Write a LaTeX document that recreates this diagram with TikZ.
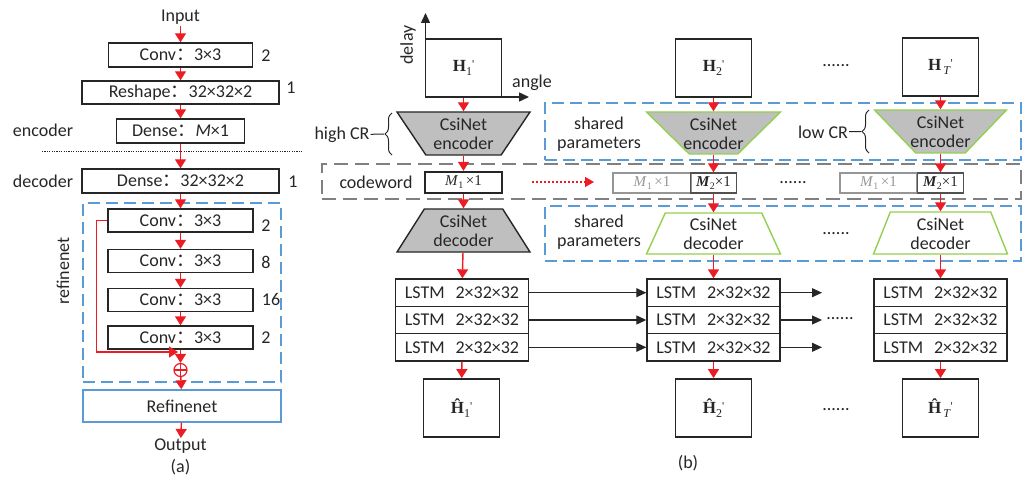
\documentclass[tikz,border=0pt]{standalone}
\usepackage{fontspec}
\setmainfont{Carlito}
\newfontfamily\cjkfont{Noto Sans CJK SC}
\newfontfamily\seriffont{Liberation Serif}
\usetikzlibrary{arrows.meta,shapes.geometric,decorations.pathreplacing}

\definecolor{flowred}{RGB}{235,28,36}
\definecolor{boxblue}{RGB}{91,155,213}
\definecolor{boxgray}{RGB}{128,128,128}
\definecolor{netgreen}{RGB}{146,208,80}
\definecolor{netfill}{RGB}{191,191,191}
\definecolor{ink}{RGB}{38,38,38}
\definecolor{faded}{RGB}{150,150,150}

\newcommand\fcolon{{\cjkfont ：}}
\newcommand\Hsym[2]{{\seriffont\fontsize{17}{17}\selectfont\textbf{#1}\raisebox{-3.5pt}{\fontsize{12}{12}\selectfont #2}\raisebox{3pt}{\fontsize{12}{12}\selectfont\textquotesingle}}}
\newcommand\Mlab[2]{{\seriffont\fontsize{15}{15}\selectfont\textit{M}\raisebox{-3pt}{\fontsize{10}{10}\selectfont 1}#2×1}}
\newcommand\Mtwo{{\seriffont\fontsize{15}{15}\selectfont\textbf{\textit{M}}\raisebox{-3pt}{\fontsize{10}{10}\selectfont 2}×1}}
\newcommand\lstm{LSTM\hspace{0.6em}2×32×32}

\begin{document}
\begin{tikzpicture}[x=1pt,y=-1pt,
  every node/.style={text=ink,font=\fontsize{18}{20}\selectfont,inner sep=1pt},
  layer/.style={draw=ink,line width=1.4pt,minimum width=#1,minimum height=24pt,inner sep=0pt},
  flow/.style={draw=flowred,line width=1.4pt,-{Triangle[length=9pt,width=11pt]}},
  link/.style={draw=ink,line width=1.1pt,-{Triangle[length=10pt,width=9pt]}},
  frame/.style={draw=ink,line width=1.8pt,minimum width=76pt,minimum height=58pt,inner sep=0pt},
  lstmrow/.style={draw=ink,line width=1.4pt,minimum width=133pt,minimum height=27.33pt,inner sep=0pt},
  trap/.style={trapezium,trapezium stretches=true,line width=1.4pt,inner sep=2pt},
  blueframe/.style={draw=boxblue,line width=1.4pt,dash pattern=on 12pt off 6pt,inner sep=0pt},
  grayframe/.style={draw=boxgray,line width=1.5pt,dash pattern=on 14pt off 7pt,inner sep=0pt},
  twoline/.style={align=center,font=\fontsize{18}{19}\selectfont},
  dots/.style={anchor=base}
]
\useasboundingbox (0,0) rectangle (1033,481);

% ---------------- (a) CsiNet layer stack ----------------
\node (in) at (180.5,17.5) {Input};
\node[layer=144pt] (c0) at (180.5,55) {Conv\fcolon 3×3};
\node[layer=197pt,minimum height=23pt] (rs) at (180.5,92.5) {Reshape\fcolon 32×32×2};
\node[layer=128pt] (de) at (180.5,131) {Dense\fcolon \textit{M}×1};
\node[layer=197pt] (dd) at (180.5,181) {Dense\fcolon 32×32×2};

\node[blueframe,minimum width=198pt,minimum height=179pt] (rgn) at (182,292.5) {};
\node[layer=145pt,minimum height=23pt] (r1) at (180.5,220.5) {Conv\fcolon 3×3};
\node[layer=145pt,minimum height=23pt] (r2) at (180.5,261) {Conv\fcolon 3×3};
\node[layer=145pt,minimum height=23pt] (r3) at (180.5,300) {Conv\fcolon 3×3};
\node[layer=145pt,minimum height=23pt] (r4) at (180.5,337.5) {Conv\fcolon 3×3};
\node[circle,draw=flowred,line width=1.2pt,minimum size=13pt,inner sep=0pt,
      path picture={\draw[flowred,line width=1.2pt]
        (path picture bounding box.north) -- (path picture bounding box.south)
        (path picture bounding box.west) -- (path picture bounding box.east);}] (sum) at (180.5,370) {};
\node[draw=boxblue,line width=1.4pt,minimum width=198pt,minimum height=32pt,inner sep=0pt] (rf) at (182,406) {Refinenet};
\node (out) at (180.5,446.5) {Output};
\node (capa) at (180.5,467) {(a)};

% channel counts
\node (k0) at (266,56) {2};
\node (k1) at (291,88) {1};
\node (k2) at (293,182) {1};
\node (k3) at (266,226) {2};
\node (k4) at (266,262) {8};
\node (k5) at (271,299) {16};
\node (k6) at (266,338) {2};

\node (encl) at (43,130) {encoder};
\node (decl) at (43,181) {decoder};
\node[rotate=90] (rlab) at (63,271) {refinenet};

\coordinate (sepL) at (42,152);
\coordinate (sepR) at (303,152);
\draw[ink,line width=1pt,dash pattern=on 1.2pt off 1.2pt] (sepL) -- (sepR);

\draw[flow] (in) -- (c0);
\draw[flow] (c0) -- (rs);
\draw[flow] (rs) -- (de);
\draw[flow] (de) -- (dd);
\draw[flow] (dd) -- (r1);
\draw[flow] (r1) -- (r2);
\draw[flow] (r2) -- (r3);
\draw[flow] (r3) -- (r4);
\draw[flow] (r4) -- (sum);
\draw[flow] (sum) -- (rf);
\draw[flow] (rf) -- (out);
\coordinate (skipEnd) at (178,352);
\draw[flow] (r1.west) -- ++(-11,0) |- (skipEnd);

% ---------------- (b) temporal CsiNet-LSTM ----------------
% dashed groupings
\node[blueframe,minimum width=476pt,minimum height=57pt] (grpEnc) at (783,131.5) {};
\node[blueframe,minimum width=476pt,minimum height=55pt] (grpDec) at (783,233.5) {};
\node[grayframe,minimum width=699pt,minimum height=35pt] (grpCw) at (671.5,181.5) {};

% input frames and angle-delay axes
\coordinate (axO) at (425.5,97);
\coordinate (axUp) at (425.5,13);
\coordinate (axRt) at (529,97);
\draw[ink,line width=1.4pt,-{Triangle[length=10pt,width=9pt]}] (axO) -- (axUp);
\draw[ink,line width=1.4pt,-{Triangle[length=10pt,width=9pt]}] (axO) -- (axRt);
\node[rotate=90] (dly) at (408,45) {delay};
\node (ang) at (532,83) {angle};

\node[frame] (h1) at (463.5,68) {\Hsym{H}{1}};
\node[frame] (h2) at (713.5,68) {\Hsym{H}{2}};
\node[frame] (hT) at (940.5,67) {\Hsym{H}{\,\textit{T}}};
\node (dtop) [dots] at (836,67) {......};

% encoders (shape, then its caption)
\node[trap,draw=ink,fill=netfill,shape border rotate=180,trapezium angle=69,
      minimum width=133pt,minimum height=43pt] (e1) at (463.5,133.5) {};
\node[twoline] (e1t) at (463.5,134) {CsiNet\\encoder};
\node[trap,draw=netgreen,fill=netfill,shape border rotate=180,trapezium angle=48.6,
      minimum width=134pt,minimum height=42pt] (e2) at (713.5,133) {};
\node[twoline] (e2t) at (713.5,133.5) {CsiNet\\encoder};
\node[trap,draw=netgreen,fill=netfill,shape border rotate=180,trapezium angle=50,
      minimum width=132pt,minimum height=43pt] (eT) at (940.5,131.5) {};
\node[twoline] (eTt) at (940.5,132) {CsiNet\\encoder};

% compression-ratio braces
\node (hcr) at (342,135) {high CR};
\coordinate (hbBot) at (392,155);
\coordinate (hbTop) at (392,113);
\coordinate (hbTip) at (384,134);
\draw[ink,line width=1pt,decorate,decoration={brace,amplitude=7pt}] (hbBot) -- (hbTop);
\draw[ink,line width=1pt] (hcr) -- (hbTip);
\node (lcr) at (823,132) {low CR};
\coordinate (lbBot) at (869,153);
\coordinate (lbTop) at (869,110);
\coordinate (lbTip) at (861,131.5);
\draw[ink,line width=1pt,decorate,decoration={brace,amplitude=7pt}] (lbBot) -- (lbTop);
\draw[ink,line width=1pt] (lcr) -- (lbTip);

\node[twoline] (sp1) at (599,134) {shared\\parameters};
\node[twoline] (sp2) at (599,232) {shared\\parameters};

% codewords
\node (cwl) at (376,182) {codeword};
\node[draw=ink,line width=2.4pt,minimum width=77pt,minimum height=21pt,inner sep=0pt] (cw1) at (463.5,182.5) {\Mlab{1}{\,}};
\node[draw=faded,line width=1.4pt,minimum width=78pt,minimum height=20pt,inner sep=0pt,text=faded] (cw2a) at (652,183) {\Mlab{1}{\,}};
\node[draw=ink!80,line width=1.4pt,minimum width=46pt,minimum height=20pt,inner sep=0pt] (cw2b) at (713.5,183) {\Mtwo};
\node[draw=faded,line width=1.4pt,minimum width=77pt,minimum height=20pt,inner sep=0pt,text=faded] (cwTa) at (878.5,183) {\Mlab{1}{\,}};
\node[draw=ink!80,line width=1.4pt,minimum width=46pt,minimum height=20pt,inner sep=0pt] (cwTb) at (940.5,183) {\Mtwo};
\node (dcw) [dots] at (793,184) {......};
\coordinate (reuseA) at (532,182);
\coordinate (reuseB) at (594,182);
\draw[flowred,line width=1.4pt,dash pattern=on 2pt off 2pt,-{Triangle[length=9pt,width=10pt]}] (reuseA) -- (reuseB);

% decoders (shape, then its caption)
\node[trap,draw=ink,fill=netfill,trapezium angle=70.8,
      minimum width=133pt,minimum height=43pt] (d1) at (463.5,230.5) {};
\node[twoline] (d1t) at (463.5,231) {CsiNet\\decoder};
\node[trap,draw=netgreen,fill=white,trapezium angle=79,
      minimum width=134pt,minimum height=41pt] (d2) at (713.5,233.5) {};
\node[twoline] (d2t) at (713.5,234) {CsiNet\\decoder};
\node[trap,draw=netgreen,fill=white,trapezium angle=80.5,
      minimum width=134pt,minimum height=42pt] (dT) at (940.5,233) {};
\node[twoline] (dTt) at (940.5,233.5) {CsiNet\\decoder};
\node (ddec) [dots] at (836,234) {......};

% LSTM stacks
\node[lstmrow] (L1a) at (462,292.7) {\lstm};
\node[lstmrow] (L1b) at (462,320) {\lstm};
\node[lstmrow] (L1c) at (462,347.3) {\lstm};
\node[lstmrow] (L2a) at (713.5,292.7) {\lstm};
\node[lstmrow] (L2b) at (713.5,320) {\lstm};
\node[lstmrow] (L2c) at (713.5,347.3) {\lstm};
\node[lstmrow] (LTa) at (940.5,292.7) {\lstm};
\node[lstmrow] (LTb) at (940.5,320) {\lstm};
\node[lstmrow] (LTc) at (940.5,347.3) {\lstm};
\draw[link] (L1a) -- (L2a);
\draw[link] (L1b) -- (L2b);
\draw[link] (L1c) -- (L2c);
\coordinate (oa) at (822,292.7);
\coordinate (ob) at (822,320);
\coordinate (oc) at (822,347.3);
\draw[link] (L2a) -- (oa);
\draw[link] (L2b) -- (ob);
\draw[link] (L2c) -- (oc);
\node (dls) [dots] at (840,319) {......};

% reconstructed frames
\node[frame] (g1) at (461.5,408) {\Hsym{Ĥ}{1}};
\node[frame] (g2) at (713.5,408) {\Hsym{Ĥ}{2}};
\node[frame] (gT) at (940.5,408) {\Hsym{Ĥ}{\,\textit{T}}};
\node (dbot) [dots] at (836,410) {......};
\node (capb) at (688,463) {(b)};

% data flow
\draw[flow] (h1) -- (e1);
\draw[flow] (e1) -- (cw1);
\draw[flow] (cw1) -- (d1);
\draw[flow] (d1) -- (L1a);
\draw[flow] (L1c) -- (g1);
\draw[flow] (h2) -- (e2);
\draw[flow] (e2) -- (cw2b);
\draw[flow] (cw2b) -- (d2);
\draw[flow] (d2) -- (L2a);
\draw[flow] (L2c) -- (g2);
\draw[flow] (hT) -- (eT);
\draw[flow] (eT) -- (cwTb);
\draw[flow] (cwTb) -- (dT);
\draw[flow] (dT) -- (LTa);
\draw[flow] (LTc) -- (gT);
\end{tikzpicture}
\end{document}
